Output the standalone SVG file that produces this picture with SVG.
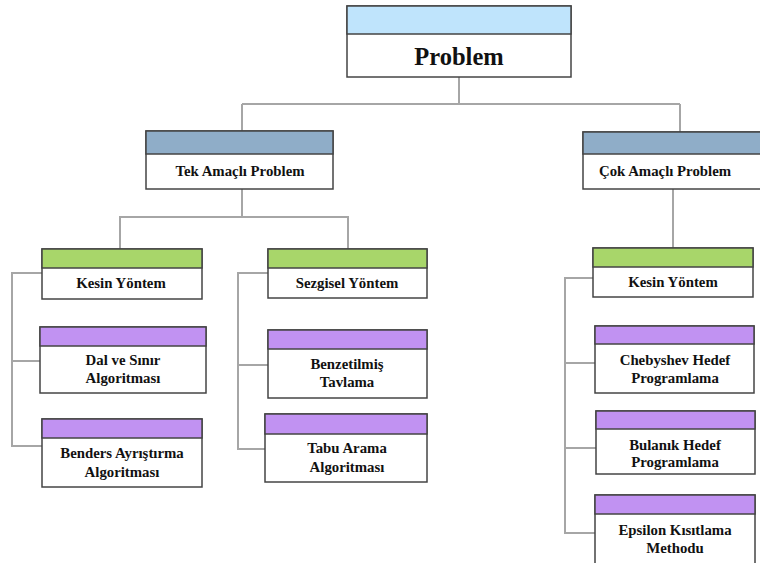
<svg xmlns="http://www.w3.org/2000/svg" width="760" height="563" viewBox="0 0 760 563">
<style>
.box{fill:#fff;stroke:#444;stroke-width:1.5}
.b1{fill:#BFE4FC;stroke:#444;stroke-width:1.5}
.b2{fill:#8FADC8;stroke:#444;stroke-width:1.5}
.b3{fill:#A8D66A;stroke:#444;stroke-width:1.5}
.b4{fill:#C192F2;stroke:#444;stroke-width:1.5}
.c{fill:none;stroke:#A6A6A6;stroke-width:2}
text{font-family:'Liberation Serif','DejaVu Serif',serif;font-weight:bold;fill:#111;text-anchor:middle}
.t{font-size:14.8px}
.big{font-size:24.5px}
</style>
<rect width="760" height="563" fill="#fff"/>
<g id="connectors">
<path class="c" d="M459 77V104M242 104H680M242 104V131M680 104V132"/>
<path class="c" d="M242 189V217H120V249M120 217H348V249"/>
<path class="c" d="M673 189V248"/>
<path class="c" d="M42 273H12V446H42M12 361H40"/>
<path class="c" d="M268 273H238V449H265M238 365H268"/>
<path class="c" d="M593 278H565V533H595M565 363H595M565 448H596"/>
</g>
<g id="problem">
<rect class="box" x="347" y="6" width="224" height="71"/>
<rect class="b1" x="347" y="6" width="224" height="28"/>
<text class="big" x="459" y="65">Problem</text>
</g>
<g id="tek">
<rect class="box" x="146" y="131" width="187" height="58"/>
<rect class="b2" x="146" y="131" width="187" height="23"/>
<text class="t" x="240" y="176">Tek Amaçlı Problem</text>
</g>
<g id="cok">
<rect class="box" x="583" y="132" width="185" height="57"/>
<rect class="b2" x="583" y="132" width="185" height="22"/>
<text class="t" x="665" y="176">Çok Amaçlı Problem</text>
</g>
<g id="kesin1">
<rect class="box" x="42" y="249" width="160" height="50"/>
<rect class="b3" x="42" y="249" width="160" height="19"/>
<text class="t" x="121" y="288">Kesin Yöntem</text>
</g>
<g id="sezgisel">
<rect class="box" x="268" y="249" width="159" height="49"/>
<rect class="b3" x="268" y="249" width="159" height="19"/>
<text class="t" x="347" y="288">Sezgisel Yöntem</text>
</g>
<g id="kesin2">
<rect class="box" x="593" y="248" width="160" height="49"/>
<rect class="b3" x="593" y="248" width="160" height="19"/>
<text class="t" x="673" y="287">Kesin Yöntem</text>
</g>
<g id="dal">
<rect class="box" x="40" y="327" width="166" height="66"/>
<rect class="b4" x="40" y="327" width="166" height="19"/>
<text class="t" x="123" y="365">Dal ve Sınır</text>
<text class="t" x="123" y="383">Algoritması</text>
</g>
<g id="benders">
<rect class="box" x="42" y="419" width="160" height="68"/>
<rect class="b4" x="42" y="419" width="160" height="19"/>
<text class="t" x="122" y="458">Benders Ayrıştırma</text>
<text class="t" x="122" y="477">Algoritması</text>
</g>
<g id="benzetilmis">
<rect class="box" x="268" y="330" width="159" height="68"/>
<rect class="b4" x="268" y="330" width="159" height="19"/>
<text class="t" x="347" y="369">Benzetilmiş</text>
<text class="t" x="347" y="387">Tavlama</text>
</g>
<g id="tabu">
<rect class="box" x="265" y="414" width="162" height="68"/>
<rect class="b4" x="265" y="414" width="162" height="20"/>
<text class="t" x="347" y="453">Tabu Arama</text>
<text class="t" x="347" y="472">Algoritması</text>
</g>
<g id="chebyshev">
<rect class="box" x="595" y="326" width="159" height="67"/>
<rect class="b4" x="595" y="326" width="159" height="18"/>
<text class="t" x="675" y="365">Chebyshev Hedef</text>
<text class="t" x="675" y="383">Programlama</text>
</g>
<g id="bulanik">
<rect class="box" x="596" y="411" width="159" height="63"/>
<rect class="b4" x="596" y="411" width="159" height="18"/>
<text class="t" x="675" y="450">Bulanık Hedef</text>
<text class="t" x="675" y="467">Programlama</text>
</g>
<g id="epsilon">
<rect class="box" x="595" y="495" width="160" height="70"/>
<rect class="b4" x="595" y="495" width="160" height="19"/>
<text class="t" x="675" y="535">Epsilon Kısıtlama</text>
<text class="t" x="675" y="553">Methodu</text>
</g>
</svg>
